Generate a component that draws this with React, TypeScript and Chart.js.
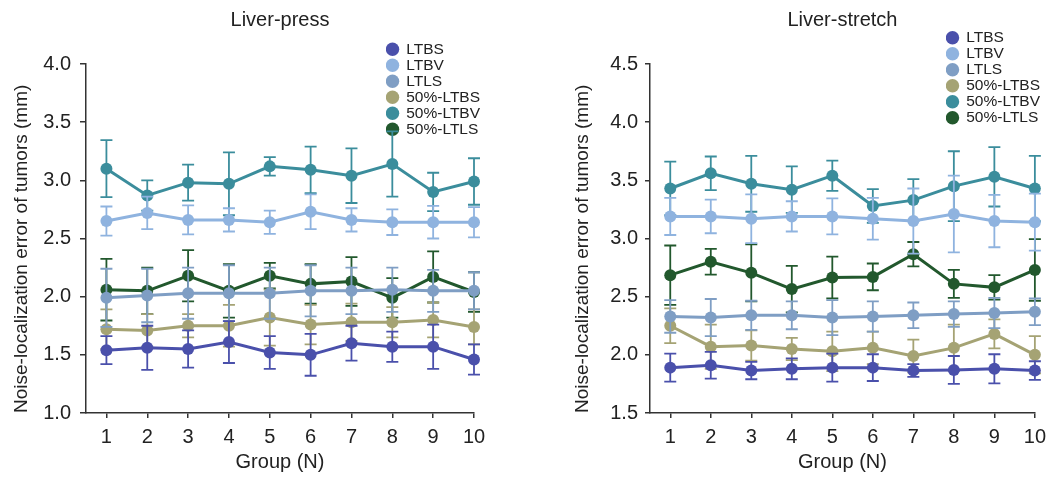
import React, { useEffect, useRef } from 'react';
import { Chart, registerables } from 'chart.js';

Chart.register(...registerables);

const FONT = "'Liberation Sans', Arial, Helvetica, sans-serif";
const TEXT = '#222222';
const AXIS = '#333333';

// ---------- data ----------
const GROUPS = [1, 2, 3, 4, 5, 6, 7, 8, 9, 10];
const X_TICKS = [1, 2, 3, 4, 5, 6, 7, 8, 9, 10];
const Y_TICKS_PRESS = [1.0, 1.5, 2.0, 2.5, 3.0, 3.5, 4.0];
const Y_TICKS_STRETCH = [1.5, 2.0, 2.5, 3.0, 3.5, 4.0, 4.5];

const SERIES_NAMES = ['LTBS', 'LTBV', 'LTLS', '50%-LTBS', '50%-LTBV', '50%-LTLS'];
const SERIES_COLORS = ['#4a50ab', '#8fb3df', '#7f9ec4', '#a5a374', '#3b8d9c', '#22582d'];

// Liver-press (means and error half-widths)
const PRESS_LTBS = [1.54, 1.56, 1.55, 1.61, 1.52, 1.50, 1.60, 1.57, 1.57, 1.46];
const PRESS_LTBS_ERR = [0.12, 0.19, 0.16, 0.18, 0.14, 0.18, 0.15, 0.13, 0.19, 0.13];
const PRESS_LTBV = [2.65, 2.72, 2.66, 2.66, 2.64, 2.73, 2.66, 2.64, 2.64, 2.64];
const PRESS_LTBV_ERR = [0.125, 0.14, 0.125, 0.10, 0.10, 0.15, 0.10, 0.11, 0.14, 0.13];
const PRESS_LTLS = [1.99, 2.01, 2.03, 2.03, 2.03, 2.05, 2.05, 2.06, 2.05, 2.05];
const PRESS_LTLS_ERR = [0.25, 0.23, 0.22, 0.24, 0.22, 0.22, 0.20, 0.19, 0.18, 0.16];
const PRESS_50_LTBS = [1.72, 1.71, 1.75, 1.75, 1.82, 1.76, 1.78, 1.78, 1.80, 1.74];
const PRESS_50_LTBS_ERR = [0.17, 0.14, 0.10, 0.18, 0.24, 0.17, 0.16, 0.13, 0.15, 0.15];
const PRESS_50_LTBV = [3.10, 2.87, 2.98, 2.97, 3.12, 3.09, 3.04, 3.14, 2.90, 2.99];
const PRESS_50_LTBV_ERR = [0.245, 0.13, 0.155, 0.27, 0.08, 0.20, 0.235, 0.28, 0.165, 0.20];
const PRESS_50_LTLS = [2.06, 2.05, 2.18, 2.05, 2.18, 2.11, 2.13, 1.99, 2.17, 2.04];
const PRESS_50_LTLS_ERR = [0.265, 0.20, 0.22, 0.23, 0.11, 0.17, 0.21, 0.17, 0.22, 0.17];

// Liver-stretch
const STRETCH_LTBS = [1.89, 1.91, 1.865, 1.88, 1.89, 1.89, 1.865, 1.87, 1.88, 1.865];
const STRETCH_LTBS_ERR = [0.12, 0.115, 0.075, 0.09, 0.12, 0.115, 0.055, 0.12, 0.125, 0.08];
const STRETCH_LTBV = [3.19, 3.19, 3.17, 3.19, 3.19, 3.17, 3.15, 3.21, 3.15, 3.14];
const STRETCH_LTBV_ERR = [0.16, 0.145, 0.21, 0.13, 0.155, 0.18, 0.28, 0.33, 0.225, 0.245];
const STRETCH_LTLS = [2.33, 2.32, 2.34, 2.34, 2.32, 2.33, 2.34, 2.35, 2.36, 2.37];
const STRETCH_LTLS_ERR = [0.14, 0.16, 0.125, 0.12, 0.15, 0.13, 0.11, 0.11, 0.13, 0.115];
const STRETCH_50_LTBS = [2.25, 2.07, 2.08, 2.05, 2.03, 2.06, 1.99, 2.06, 2.18, 2.00];
const STRETCH_50_LTBS_ERR = [0.15, 0.19, 0.13, 0.095, 0.17, 0.14, 0.14, 0.20, 0.125, 0.16];
const STRETCH_50_LTBV = [3.43, 3.56, 3.47, 3.42, 3.54, 3.28, 3.33, 3.45, 3.53, 3.43];
const STRETCH_50_LTBV_ERR = [0.23, 0.145, 0.24, 0.20, 0.13, 0.145, 0.18, 0.30, 0.255, 0.28];
const STRETCH_50_LTLS = [2.685, 2.80, 2.705, 2.565, 2.665, 2.67, 2.865, 2.61, 2.58, 2.73];
const STRETCH_50_LTLS_ERR = [0.255, 0.11, 0.245, 0.20, 0.18, 0.115, 0.105, 0.12, 0.105, 0.265];

const PRESS_VALUES = [PRESS_LTBS, PRESS_LTBV, PRESS_LTLS, PRESS_50_LTBS, PRESS_50_LTBV, PRESS_50_LTLS];
const PRESS_ERRORS = [PRESS_LTBS_ERR, PRESS_LTBV_ERR, PRESS_LTLS_ERR, PRESS_50_LTBS_ERR, PRESS_50_LTBV_ERR, PRESS_50_LTLS_ERR];
const STRETCH_VALUES = [STRETCH_LTBS, STRETCH_LTBV, STRETCH_LTLS, STRETCH_50_LTBS, STRETCH_50_LTBV, STRETCH_50_LTLS];
const STRETCH_ERRORS = [STRETCH_LTBS_ERR, STRETCH_LTBV_ERR, STRETCH_LTLS_ERR, STRETCH_50_LTBS_ERR, STRETCH_50_LTBV_ERR, STRETCH_50_LTLS_ERR];

// ---------- plugins ----------
const errorBars = {
  id: 'errorBars',
  beforeDatasetDraw(chart: any, args: any) {
    const ds = chart.data.datasets[args.index];
    const errs: number[] | undefined = ds.errors;
    if (!errs) return;
    const { ctx } = chart;
    const xs = chart.scales.x;
    const ys = chart.scales.y;
    ctx.save();
    ctx.strokeStyle = ds.borderColor;
    ctx.lineWidth = 1.8;
    const cap = 6;
    ds.data.forEach((p: any, i: number) => {
      const px = xs.getPixelForValue(p.x);
      const t = ys.getPixelForValue(p.y + errs[i]);
      const b = ys.getPixelForValue(p.y - errs[i]);
      ctx.beginPath();
      ctx.moveTo(px, t);
      ctx.lineTo(px, b);
      ctx.moveTo(px - cap, t);
      ctx.lineTo(px + cap, t);
      ctx.moveTo(px - cap, b);
      ctx.lineTo(px + cap, b);
      ctx.stroke();
    });
    ctx.restore();
  },
};

const legendPlacer = {
  id: 'legendPlacer',
  beforeDraw(chart: any, _args: any, opts: any) {
    const lg = chart.legend;
    if (!lg || opts == null || opts.x == null) return;
    const w = lg.width;
    const h = lg.height;
    lg.left = opts.x;
    lg.top = opts.y;
    lg.right = opts.x + w;
    lg.bottom = opts.y + h;
  },
};

type PanelProps = {
  title: string;
  left: number;
  width: number;
  yTicks: number[];
  values: number[][];
  errors: number[][];
  yWidth: number;
  yTickLen: number;
  yTickPad: number;
  yTitlePad: number;
  padRight: number;
  legendX: number;
  legendY: number;
};

function Panel(p: PanelProps) {
  const ref = useRef<HTMLCanvasElement | null>(null);
  useEffect(() => {
    if (!ref.current) return;
    const datasets = SERIES_NAMES.map((name, si) => ({
      label: name,
      data: GROUPS.map((g, i) => ({ x: g, y: p.values[si][i] })),
      errors: p.errors[si],
      borderColor: SERIES_COLORS[si],
      backgroundColor: SERIES_COLORS[si],
      pointBackgroundColor: SERIES_COLORS[si],
      pointBorderColor: SERIES_COLORS[si],
      pointBorderWidth: 0,
      pointRadius: 6,
      pointStyle: 'circle',
      borderWidth: 3,
      tension: 0,
      clip: false,
    }));
    const axisGrid = (len: number) => ({
      display: true,
      drawOnChartArea: false,
      drawTicks: true,
      tickLength: len,
      color: AXIS,
      lineWidth: 1.5,
    });
    const chart = new Chart(ref.current, {
      type: 'line',
      data: { datasets } as any,
      plugins: [errorBars, legendPlacer],
      options: {
        responsive: false,
        animation: false,
        devicePixelRatio: 1,
        layout: { padding: { left: 0, right: p.padRight, top: 0, bottom: 0 } },
        plugins: {
          title: {
            display: true,
            text: p.title,
            color: TEXT,
            font: { size: 20, family: FONT, weight: 'normal' },
            padding: { top: 8, bottom: 32 },
            fullSize: false,
          },
          legend: {
            display: true,
            position: 'chartArea',
            align: 'start',
            labels: {
              usePointStyle: true,
              pointStyle: 'circle',
              boxWidth: 12,
              boxHeight: 9.5,
              padding: 0.5,
              color: TEXT,
              font: { size: 15.5, family: FONT },
            },
          },
          tooltip: { enabled: false },
          legendPlacer: { x: p.legendX, y: p.legendY },
        } as any,
        scales: {
          x: {
            type: 'linear',
            min: 0.5,
            max: 10,
            afterBuildTicks: (s: any) => {
              s.ticks = X_TICKS.map((v) => ({ value: v }));
            },
            afterFit: (s: any) => {
              s.height = 64;
            },
            grid: axisGrid(5),
            border: { display: true, color: AXIS, width: 1.5 },
            ticks: {
              color: TEXT,
              padding: 7,
              maxRotation: 0,
              font: { size: 20, family: FONT },
              callback: (v: any) => String(v),
            },
            title: {
              display: true,
              text: 'Group (N)',
              color: TEXT,
              font: { size: 20, family: FONT },
              padding: { top: 0, bottom: 3 },
            },
          },
          y: {
            type: 'linear',
            min: p.yTicks[0],
            max: p.yTicks[p.yTicks.length - 1],
            afterBuildTicks: (s: any) => {
              s.ticks = p.yTicks.map((v) => ({ value: v }));
            },
            afterFit: (s: any) => {
              s.width = p.yWidth;
            },
            grid: axisGrid(p.yTickLen),
            border: { display: true, color: AXIS, width: 1.5 },
            ticks: {
              color: TEXT,
              padding: p.yTickPad,
              font: { size: 20, family: FONT },
              callback: (v: any) => Number(v).toFixed(1),
            },
            title: {
              display: true,
              text: 'Noise-localization error of tumors (mm)',
              align: 'start',
              color: TEXT,
              font: { size: 19, family: FONT },
              padding: { top: p.yTitlePad, bottom: 0 },
            },
          },
        },
      } as any,
    });
    return () => chart.destroy();
  }, []);
  return (
    <canvas
      ref={ref}
      width={p.width}
      height={477}
      style={{ position: 'absolute', left: p.left, top: 0, width: p.width, height: 477 }}
    />
  );
}

export default function App() {
  return (
    <div style={{ position: 'absolute', left: 0, top: 0, width: 1053, height: 477, background: '#ffffff', overflow: 'hidden' }}>
      <Panel
        title="Liver-press"
        left={0}
        width={500}
        yTicks={Y_TICKS_PRESS}
        values={PRESS_VALUES}
        errors={PRESS_ERRORS}
        yWidth={86}
        yTickLen={6}
        yTickPad={9}
        yTitlePad={10.6}
        padRight={26}
        legendX={386}
        legendY={41}
      />
      <Panel
        title="Liver-stretch"
        left={560}
        width={493}
        yTicks={Y_TICKS_STRETCH}
        values={STRETCH_VALUES}
        errors={STRETCH_ERRORS}
        yWidth={90}
        yTickLen={5}
        yTickPad={7}
        yTitlePad={11.2}
        padRight={14}
        legendX={386}
        legendY={29.5}
      />
    </div>
  );
}
